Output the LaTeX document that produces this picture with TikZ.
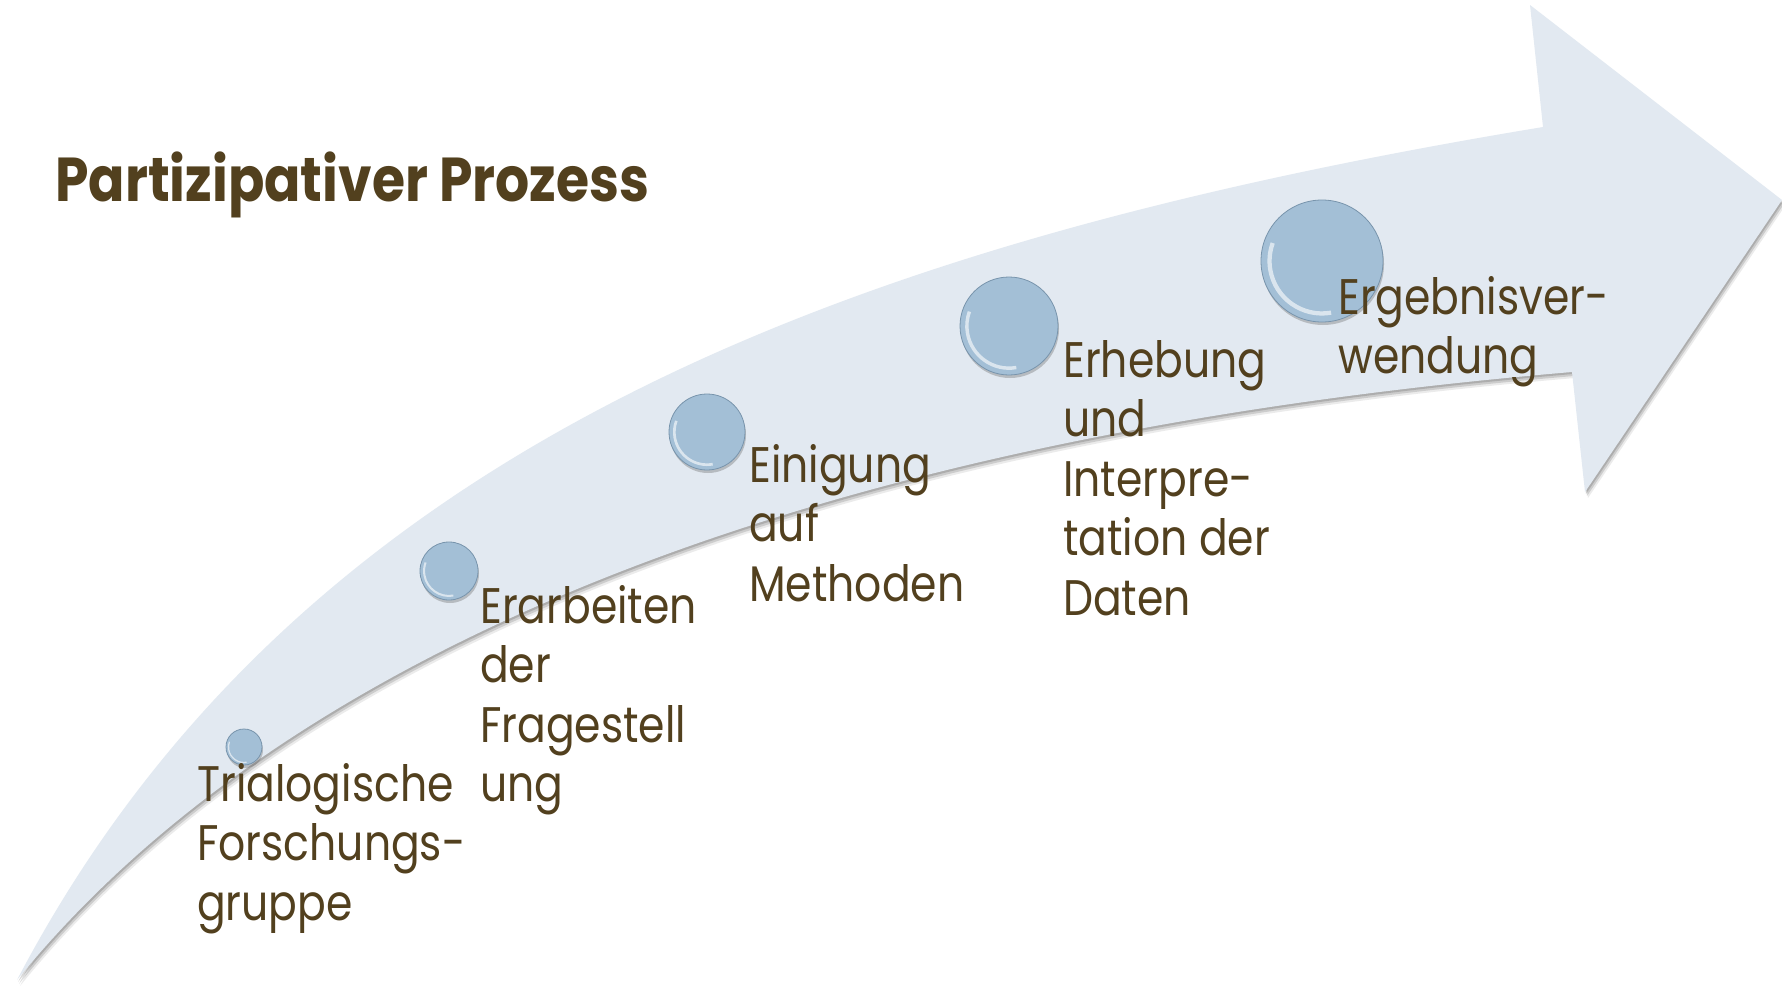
\documentclass[tikz,border=0pt]{standalone}
\usepackage{fontspec}
\setmainfont{Poppins}[FakeStretch=0.85]
\newfontfamily\titlefont{Poppins}[FakeStretch=0.865]
\usetikzlibrary{shadows}
\definecolor{arrowfill}{RGB}{226,233,241}
\definecolor{ballfill}{RGB}{163,191,214}
\definecolor{ballrim}{RGB}{120,148,172}
\definecolor{txt}{RGB}{82,64,30}
\newcommand\arrowpath{(17,980) .. controls (300,440) and (860,240) .. (1543,127)
  -- (1530,5) -- (1782,200) -- (1585,492) -- (1572,372)
  .. controls (650,450) and (220,730) .. (17,980) -- cycle}
\newcommand\myball[4]{%
  \node[ball, minimum size=2*#4] (#1) at (#2,#3) {};
  \draw[white, opacity=.6, line width=#4*0.07] ([shift={(80:#4*0.86)}]#1.center) arc[start angle=80, end angle=200, radius=#4*0.86];
}
\tikzset{
  ball/.style={circle, inner sep=0, fill=ballfill, draw=ballrim, line width=0.8,
    drop shadow={shadow xshift=1pt, shadow yshift=-3pt, opacity=0.35, fill=black!60}},
  lbl/.style={anchor=base west, align=left, inner sep=0, text=txt,
    font=\fontsize{50}{59.5}\selectfont},
  ttl/.style={anchor=base west, inner sep=0, text=txt,
    font=\titlefont\fontsize{62}{70}\selectfont\bfseries}
}
\begin{document}
\begin{tikzpicture}[x=1pt,y=-1pt]
\useasboundingbox (0,0) rectangle (1782,985);
\fill[white] (0,0) rectangle (1782,985);
% arrow shadow
\fill[black, opacity=0.15, xshift=1pt, yshift=-2pt] \arrowpath;
\fill[black, opacity=0.13, xshift=2pt, yshift=-4pt] \arrowpath;
\fill[black, opacity=0.08, xshift=3pt, yshift=-6pt] \arrowpath;
\fill[arrowfill] \arrowpath;
% balls
\myball{b1}{244}{747}{18}
\myball{b2}{449}{571}{29}
\myball{b3}{707}{432}{38}
\myball{b4}{1009}{326}{49}
\myball{b5}{1322}{261}{61}
% texts (base anchor = baseline of last line)
\node[ttl] (title) at (55,201) {Partizipativer Prozess};
\node[lbl] (t1) at (197,920) {Trialogische\\Forschungs-\\gruppe};
\node[lbl] (t2) at (480,801.5) {Erarbeiten\\der\\Fragestell\\ung};
\node[lbl] (t3) at (749,601) {Einigung\\auf\\Methoden};
\node[lbl] (t4) at (1063,615) {Erhebung\\und\\Interpre-\\tation der\\Daten};
\node[lbl] (t5) at (1338,373.5) {Ergebnisver-\\wendung};
\end{tikzpicture}
\end{document}
